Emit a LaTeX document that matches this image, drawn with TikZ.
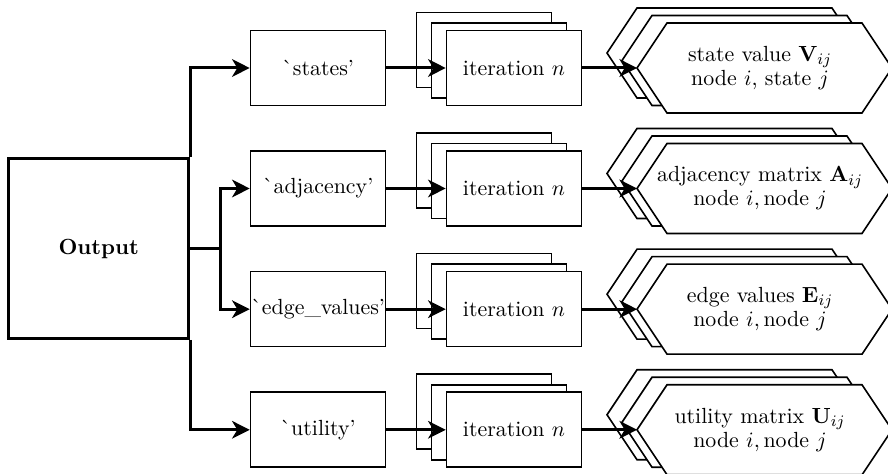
\documentclass[tikz,border=0pt]{standalone}
\usepackage{amsmath}
\usetikzlibrary{arrows.meta}
\begin{document}
\fontsize{10.95}{12}\selectfont
\begin{tikzpicture}[x=0.5pt,y=-0.5pt,
  box/.style={draw, line width=0.8pt, fill=white, minimum width=67.5pt, minimum height=37.5pt, inner sep=0pt},
  outbox/.style={draw, line width=1.4pt, fill=white, minimum width=90pt, minimum height=90pt, font=\bfseries},
  conn/.style={line width=1.5pt, -{Stealth[length=8.8pt,width=8.8pt,inset=2.6pt]}},
  hexline/.style={draw, line width=0.8pt, fill=white, line join=miter},
  hextext/.style={align=center, minimum width=122.5pt, minimum height=45pt, inner sep=0pt},
  hex/.pic={\path[hexline] (-127.5,0) -- (-97.5,-45) -- (97.5,-45) -- (127.5,0) -- (97.5,45) -- (-97.5,45) -- cycle;}
]
\useasboundingbox (0,0) rectangle (888,474);
\clip (0,0) rectangle (888,474);
\fill[white] (0,0) rectangle (888,474);

% output box
\node[outbox] (out) at (98.75,248.5) {Output};

% key boxes
\node[box] (st) at (318,68) {\`{}states'};
\node[box] (adj) at (318,188.5) {\`{}adjacency'};
\node[box] (ev) at (318,309.2) {\`{}edge\_values'};
\node[box] (ut) at (318,429.8) {\`{}utility'};

% iteration stacks and hexagon stacks
\foreach \r/\y in {1/68,2/188.5,3/309.2,4/429.8}{
  \node[box] (itb\r) at (484,\y-18) {};
  \node[box] (itm\r) at (499,\y-7.5) {};
  \node[box] (it\r) at (514,\y) {iteration $n$};
  \pic at (734.5,\y-15) {hex};
  \pic at (749.5,\y-7.5) {hex};
  \pic at (764.5,\y) {hex};
}

\node[hextext] (h1) at (760,68) {state value $\mathbf{V}_{ij}$\\node $i$, state $j$};
\node[hextext] (h2) at (760,188.5) {adjacency matrix $\mathbf{A}_{ij}$\\node $i, \text{node } j$};
\node[hextext] (h3) at (760,309.2) {edge values $\mathbf{E}_{ij}$\\node $i, \text{node } j$};
\node[hextext] (h4) at (760,429.8) {utility matrix $\mathbf{U}_{ij}$\\node $i, \text{node } j$};

% connectors from output
\draw[conn] (out.north east) |- (st.west);
\draw[conn] (out.south east) |- (ut.west);
\draw[conn] (out.east) -- ++(30,0) coordinate (split) |- (adj.west);
\draw[conn] (split) |- (ev.west);

% row connectors
\foreach \k/\r in {st/1,adj/2,ev/3,ut/4}{
  \draw[conn] (\k.east) -- (it\r.west);
  \draw[conn] (it\r.east) -- (h\r.west);
}
\end{tikzpicture}
\end{document}
